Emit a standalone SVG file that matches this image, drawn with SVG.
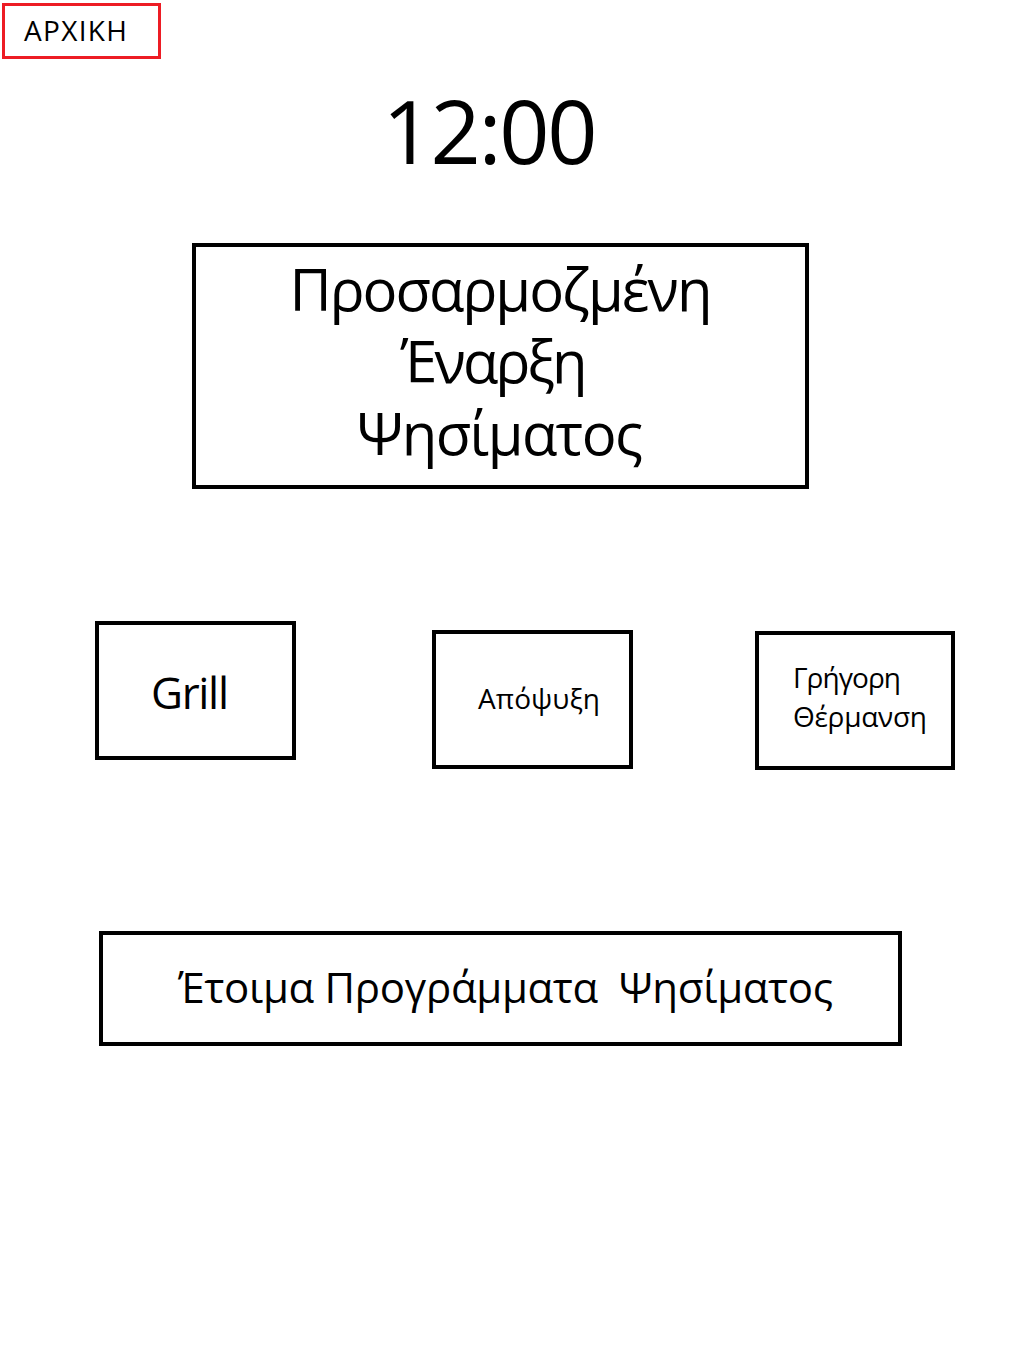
<svg xmlns="http://www.w3.org/2000/svg" width="1016" height="1350" viewBox="0 0 1016 1350">
<style>
text{font-family:"Open Sans","Noto Sans","DejaVu Sans",sans-serif;fill:#000}
.box{fill:#fff;stroke:#000;stroke-width:4}
.big{font-size:58px}
</style>
<rect width="1016" height="1350" fill="#fff"/>
<g id="home">
<rect x="3.5" y="4.5" width="156" height="53" fill="#fff" stroke="#ED1C24" stroke-width="3"/>
<text x="24" y="41" font-size="28" textLength="103">ΑΡΧΙΚΗ</text>
</g>
<g id="clock">
<text x="490" y="164" font-size="88" text-anchor="middle" textLength="215">12:00</text>
</g>
<g id="custom">
<rect class="box" x="194" y="245" width="613" height="242"/>
<text class="big" x="501" y="311" text-anchor="middle" textLength="423">Προσαρμοζμένη</text>
<text class="big" x="494" y="383" text-anchor="middle" textLength="187">Έναρξη</text>
<text class="big" x="500" y="455" text-anchor="middle" textLength="286">Ψησίματος</text>
</g>
<g id="grill">
<rect class="box" x="97" y="623" width="197" height="135"/>
<text x="151" y="709" font-size="44" textLength="78">Grill</text>
</g>
<g id="defrost">
<rect class="box" x="434" y="632" width="197" height="135"/>
<text x="478" y="709" font-size="28" textLength="122">Απόψυξη</text>
</g>
<g id="quickheat">
<rect class="box" x="757" y="633" width="196" height="135"/>
<text x="793" y="688" font-size="28" textLength="108">Γρήγορη</text>
<text x="793" y="727" font-size="28" textLength="134">Θέρμανση</text>
</g>
<g id="presets">
<rect class="box" x="101" y="933" width="799" height="111"/>
<text x="178" y="1003" font-size="42" textLength="655" xml:space="preserve">Έτοιμα Προγράμματα  Ψησίματος</text>
</g>
<g id="connectors"></g>
</svg>
